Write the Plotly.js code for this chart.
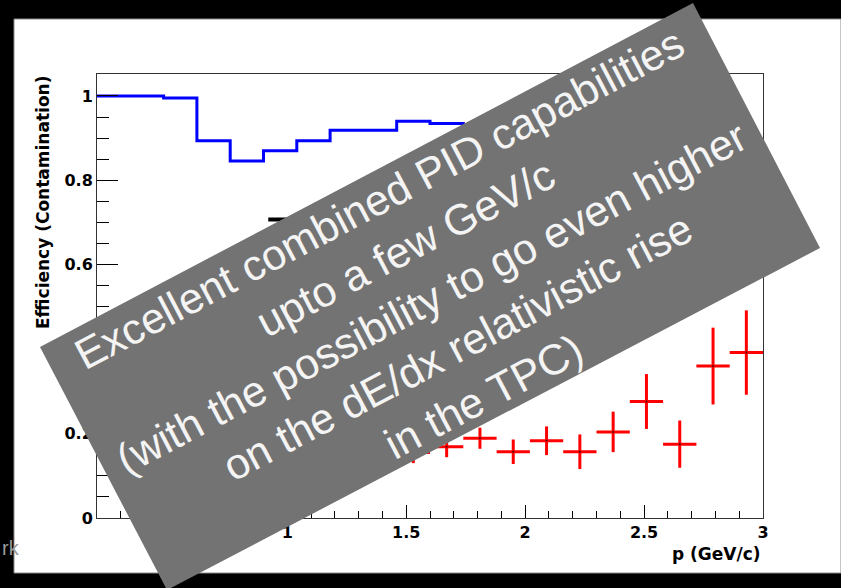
<!DOCTYPE html>
<html>
<head>
<meta charset="utf-8">
<script src="https://cdn.plot.ly/plotly-3.0.1.min.js"></script>
<style>
  html, body { margin: 0; padding: 0; background: #000; }
  #chart { width: 841px; height: 588px; }
</style>
</head>
<body>
<div id="chart"></div>
<script>
// ---- data ----
// bin edges (0.2 .. 3.0 in steps of 0.14 GeV/c)
const binEdges = [0.2, 0.34, 0.48, 0.62, 0.76, 0.90, 1.04, 1.18, 1.32, 1.46, 1.60,
                  1.74, 1.88, 2.02, 2.16, 2.30, 2.44, 2.58, 2.72, 2.86, 3.0];
// efficiency per bin (blue histogram); bins beyond ~1.9 are hidden under the overlay (estimated)
const efficiency = [1.0, 1.0, 0.995, 0.894, 0.846, 0.870, 0.894, 0.919, 0.919, 0.940,
                    0.935, 0.93, 0.92, 0.91, 0.90, 0.89, 0.87, 0.86, 0.85, 0.84];
// contamination (red points with errors)
const contP     = [1.53, 1.67, 1.81, 1.95, 2.09, 2.23, 2.37, 2.51, 2.65, 2.79, 2.93];
const contValue = [0.155, 0.169, 0.189, 0.157, 0.183, 0.157, 0.204, 0.276, 0.175, 0.360, 0.392];
const contError = [0.025, 0.025, 0.025, 0.029, 0.034, 0.041, 0.048, 0.065, 0.056, 0.091, 0.100];
const contHalfWidth = contP.map(() => 0.07);
// short black line segment visible above the overlay
const blackSegX = [0.92, 1.15];
const blackSegY = [0.707, 0.707];
// tick labels
const yTickVals = [0, 0.2, 0.4, 0.6, 0.8, 1];
const yTickText = ["0", "0.2", "0.4", "0.6", "0.8", "1"];
const xTickVals = [0.5, 1, 1.5, 2, 2.5, 3];
const xTickText = ["0.5", "1", "1.5", "2", "2.5", "3"];

const overlayText = [
  "Excellent combined PID capabilities",
  "upto a few GeV/c",
  "(with the possibility to go even higher",
  "on the dE/dx relativistic rise",
  "in the TPC)"
];

// ---- geometry helpers (pixel -> paper) ----
const L = 97, R = 763, T = 74, B = 518;
const px = x => (x - L) / (R - L);
const py = y => (B - y) / (B - T);

const stepY = efficiency.concat([efficiency[efficiency.length - 1]]);

const traces = [
  {
    x: binEdges, y: stepY, type: 'scatter', mode: 'lines',
    line: { shape: 'hv', color: '#0000ff', width: 3 },
    hoverinfo: 'skip', showlegend: false
  },
  {
    x: blackSegX, y: blackSegY, type: 'scatter', mode: 'lines',
    line: { color: '#000000', width: 4 },
    hoverinfo: 'skip', showlegend: false
  },
  {
    x: contP, y: contValue, type: 'scatter', mode: 'markers',
    marker: { size: 2, color: '#550000' },
    error_x: { type: 'data', array: contHalfWidth, width: 0, thickness: 3, color: '#ff0000' },
    error_y: { type: 'data', array: contError, width: 0, thickness: 3, color: '#ff0000' },
    hoverinfo: 'skip', showlegend: false
  }
];

const tickFont = { family: 'DejaVu Sans', size: 16, color: '#000', weight: 'bold' };

const corners = [[693, 3], [820, 248], [167, 590], [40, 347]];
const boxPath = 'M ' + corners.map(c => px(c[0]).toFixed(5) + ' ' + py(c[1]).toFixed(5)).join(' L ') + ' Z';

const layout = {
  width: 841, height: 588,
  margin: { l: L, r: 841 - R, t: T, b: 588 - B, pad: 0 },
  paper_bgcolor: '#000000',
  plot_bgcolor: '#ffffff',
  showlegend: false,
  xaxis: {
    range: [0.2, 3.0], tickvals: xTickVals, ticktext: xTickText,
    ticks: 'inside', ticklen: 13, tickwidth: 1, tickcolor: '#000',
    showline: true, mirror: true, linecolor: '#333', linewidth: 1,
    showgrid: false, zeroline: false, tickfont: tickFont,
    minor: { ticks: 'inside', ticklen: 7, dtick: 0.1, tick0: 0, tickcolor: '#000', tickwidth: 1, showgrid: false }
  },
  yaxis: {
    range: [0, 1.052], tickvals: yTickVals, ticktext: yTickText,
    ticks: 'inside', ticklen: 21, tickwidth: 1, tickcolor: '#000',
    showline: true, mirror: true, linecolor: '#333', linewidth: 1,
    showgrid: false, zeroline: false, tickfont: tickFont,
    minor: { ticks: 'inside', ticklen: 12, dtick: 0.05, tick0: 0, tickcolor: '#000', tickwidth: 1, showgrid: false }
  },
  shapes: [
    { type: 'rect', xref: 'paper', yref: 'paper', layer: 'below',
      x0: px(14), x1: px(841), y0: py(573), y1: py(19),
      fillcolor: '#ffffff', line: { color: '#8a8a8a', width: 1 } },
    { type: 'path', xref: 'paper', yref: 'paper', layer: 'above',
      path: boxPath, fillcolor: '#737373', line: { width: 0 } }
  ],
  annotations: [
    { xref: 'paper', yref: 'paper', x: px(431), y: py(298),
      xanchor: 'center', yanchor: 'middle', showarrow: false,
      textangle: -27.8, align: 'center',
      text: overlayText.join('<br>'),
      font: { family: 'Liberation Sans, Arial, sans-serif', size: 43, color: '#f4f4f4' } },
    { xref: 'paper', yref: 'paper', x: px(43), y: py(203),
      xanchor: 'center', yanchor: 'middle', showarrow: false, textangle: -90,
      text: 'Efficiency (Contamination)',
      font: { family: 'DejaVu Sans', size: 17, color: '#000', weight: 'bold' } },
    { xref: 'paper', yref: 'paper', x: 1, y: py(554),
      xanchor: 'right', yanchor: 'middle', showarrow: false,
      text: 'p (GeV/c)',
      font: { family: 'DejaVu Sans', size: 17, color: '#000', weight: 'bold' } },
    { xref: 'paper', yref: 'paper', x: px(0), y: py(548),
      xanchor: 'left', yanchor: 'middle', showarrow: false,
      text: 'rk',
      font: { family: 'Liberation Sans Narrow, Liberation Sans, sans-serif', size: 20, color: '#9a9a9a' } }
  ]
};

Plotly.newPlot('chart', traces, layout, { displayModeBar: false, staticPlot: true });
</script>
</body>
</html>
